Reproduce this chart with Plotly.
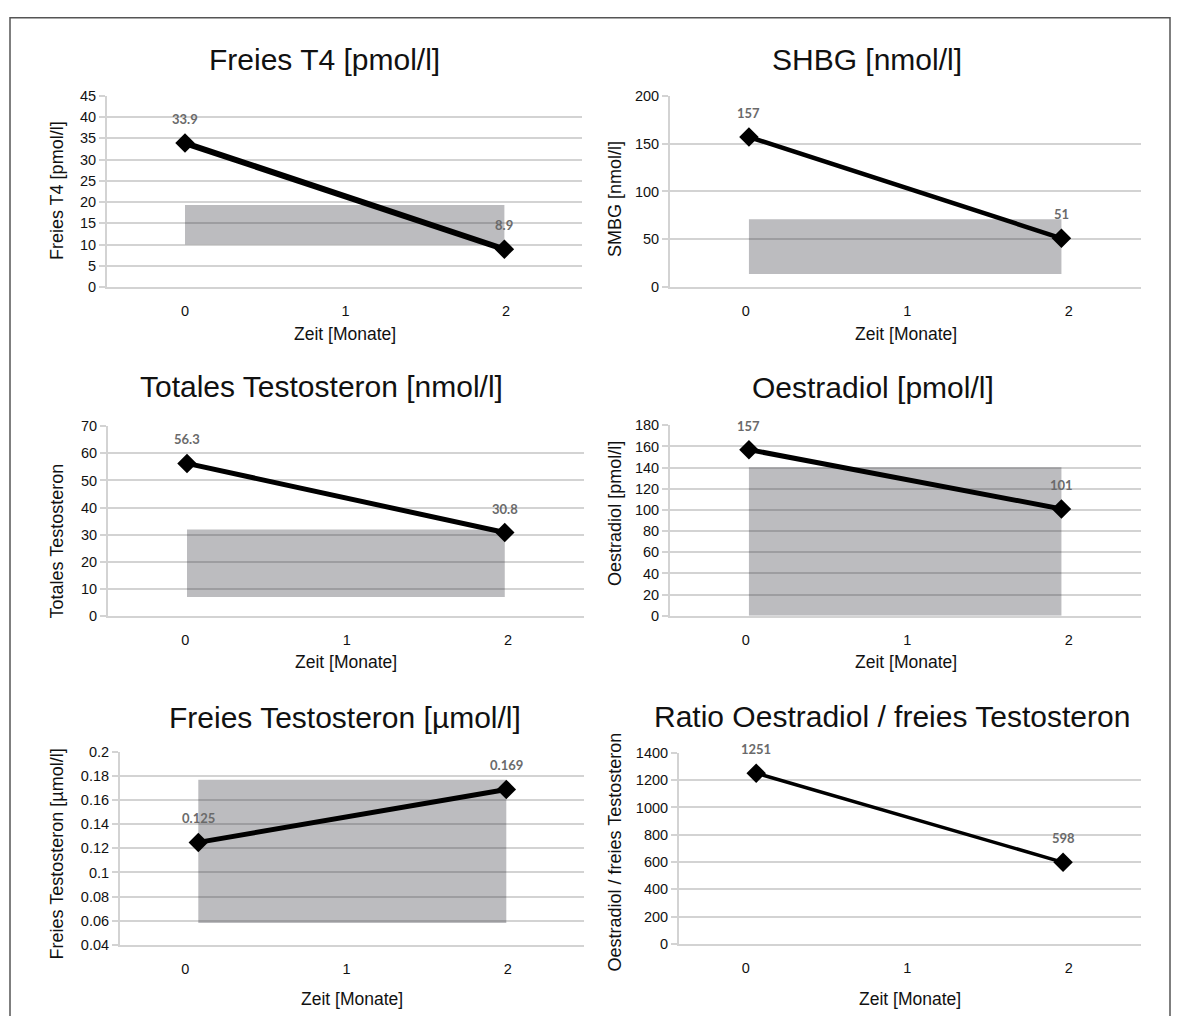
import plotly.graph_objects as go

W, H = 1178, 1016

# ---------------- data ----------------
x_ticks = [0, 1, 2]
x_title = "Zeit [Monate]"

titles = [
    "Freies T4 [pmol/l]",
    "SHBG [nmol/l]",
    "Totales Testosteron [nmol/l]",
    "Oestradiol [pmol/l]",
    "Freies Testosteron [µmol/l]",
    "Ratio Oestradiol / freies Testosteron",
]
y_titles = [
    "Freies T4 [pmol/l]",
    "SMBG [nmol/l]",
    "Totales Testosteron",
    "Oestradiol [pmol/l]",
    "Freies Testosteron [µmol/l]",
    "Oestradiol / freies Testosteron",
]

ft4_x = [0.0, 1.99]
ft4_y = [33.9, 8.9]
ft4_labels = ["33.9", "8.9"]
ft4_ref = [10.0, 19.3]

shbg_x = [0.02, 1.955]
shbg_y = [157, 51]
shbg_labels = ["157", "51"]
shbg_ref = [13.7, 71.0]

tt_x = [0.01, 1.98]
tt_y = [56.3, 30.8]
tt_labels = ["56.3", "30.8"]
tt_ref = [7.0, 31.9]

e2_x = [0.02, 1.955]
e2_y = [157, 101]
e2_labels = ["157", "101"]
e2_ref = [0.0, 140.4]

ft_x = [0.08, 1.99]
ft_y = [0.125, 0.169]
ft_labels = ["0.125", "0.169"]
ft_ref = [0.058, 0.177]

ratio_x = [0.065, 1.965]
ratio_y = [1251, 598]
ratio_labels = ["1251", "598"]
ratio_ref = None

ft4_yticks = [0, 5, 10, 15, 20, 25, 30, 35, 40, 45]
shbg_yticks = [0, 50, 100, 150, 200]
tt_yticks = [0, 10, 20, 30, 40, 50, 60, 70]
e2_yticks = [0, 20, 40, 60, 80, 100, 120, 140, 160, 180]
ft_yticks = [0.04, 0.06, 0.08, 0.1, 0.12, 0.14, 0.16, 0.18, 0.2]
ft_yticklabels = ["0.04", "0.06", "0.08", "0.1", "0.12", "0.14", "0.16", "0.18", "0.2"]
ratio_yticks = [0, 200, 400, 600, 800, 1000, 1200, 1400]

series = [
    (ft4_x, ft4_y, ft4_labels, ft4_ref, ft4_yticks, None),
    (shbg_x, shbg_y, shbg_labels, shbg_ref, shbg_yticks, None),
    (tt_x, tt_y, tt_labels, tt_ref, tt_yticks, None),
    (e2_x, e2_y, e2_labels, e2_ref, e2_yticks, None),
    (ft_x, ft_y, ft_labels, ft_ref, ft_yticks, ft_yticklabels),
    (ratio_x, ratio_y, ratio_labels, ratio_ref, ratio_yticks, None),
]

# ---------------- layout geometry (pixels) ----------------
# plot box: left, right, top, bottom ; x pixel of tick 0 and tick 2
boxes = [
    (107, 582, 89.3, 283.5, 185.0, 506.0),
    (670, 1141, 89.3, 283.5, 745.7, 1068.7),
    (108, 584, 425.0, 617.7, 185.4, 508.0),
    (670, 1141, 424.0, 617.5, 745.7, 1068.7),
    (120, 584, 756.0, 951.7, 185.4, 507.9),
    (679, 1141, 756.7, 951.0, 745.7, 1068.7),
]
title_pos = [(324, 52), (867, 52), (321, 385), (873, 386), (345, 721), (892, 720)]
ytitle_pos = [(57, 186), (615, 194), (57, 542), (615, 514), (57, 860), (615, 858)]
xtitle_y = [331, 331, 664, 664, 1007, 1007]
line_w = [6, 4.5, 5, 5, 5, 3.5]

GRID = "#d3d3d3"
FONT = "Liberation Sans, Arial, sans-serif"

fig = go.Figure()
layout = dict(
    width=W, height=H,
    margin=dict(l=0, r=0, t=0, b=0),
    paper_bgcolor="white", plot_bgcolor="white",
    showlegend=False,
    font=dict(family=FONT, color="#111111"),
    annotations=[], shapes=[],
)

def px(x):
    return x / W

def py(y):
    return 1 - y / H

for i, (xs, ys, labs, ref, yt, ytl) in enumerate(series):
    n = i + 1
    xa = "x" if n == 1 else f"x{n}"
    ya = "y" if n == 1 else f"y{n}"
    L, R, T, B, t0, t2 = boxes[i]
    unit = (t2 - t0) / 2.0
    xr = [(L - t0) / unit, (R - t0) / unit]
    yr = [yt[0], yt[-1]]

    if ref is not None:
        fig.add_trace(go.Scatter(
            x=[xs[0], xs[1], xs[1], xs[0], xs[0]],
            y=[ref[0], ref[0], ref[1], ref[1], ref[0]],
            mode="lines", fill="toself",
            fillcolor="rgba(40,40,48,0.31)", line=dict(width=0),
            hoverinfo="skip", xaxis=xa, yaxis=ya,
        ))
    fig.add_trace(go.Scatter(
        x=xs, y=ys, mode="lines+markers",
        line=dict(color="black", width=line_w[i]),
        marker=dict(symbol="diamond", size=15, color="black"),
        xaxis=xa, yaxis=ya,
    ))
    for xv, yv, lab in zip(xs, ys, labs):
        layout["annotations"].append(dict(
            x=xv, y=yv, xref=xa, yref=ya, text=f"<b>{lab}</b>",
            showarrow=False, yshift=24,
            font=dict(family="Lato, Open Sans, sans-serif", size=13, color="#6a6a6a"),
        ))

    layout["xaxis" if n == 1 else f"xaxis{n}"] = dict(
        domain=[px(L), px(R)], range=xr, anchor=ya,
        tickmode="array", tickvals=x_ticks, ticktext=[str(v) for v in x_ticks],
        showgrid=False, zeroline=False,
        showline=True, linecolor=GRID, linewidth=2,
        ticks="outside", ticklen=10, tickcolor="rgba(0,0,0,0)",
        tickfont=dict(size=14.5, family=FONT, color="#111111"),
        fixedrange=True,
    )
    layout["yaxis" if n == 1 else f"yaxis{n}"] = dict(
        domain=[py(B), py(T)], range=yr, anchor=xa,
        tickmode="array", tickvals=yt,
        ticktext=ytl if ytl is not None else [str(v) for v in yt],
        showgrid=True, gridcolor=GRID, gridwidth=2,
        zeroline=False,
        showline=True, linecolor=GRID, linewidth=2,
        ticks="outside", ticklen=6, tickcolor=GRID, tickwidth=2,
        tickfont=dict(size=14.5, family=FONT, color="#111111"),
        fixedrange=True,
    )

    tx, ty = title_pos[i]
    layout["annotations"].append(dict(
        x=px(tx), y=py(ty), xref="paper", yref="paper", text=titles[i],
        showarrow=False, xanchor="center", yanchor="middle",
        font=dict(size=30, family=FONT, color="#111111"),
    ))
    yx, yy = ytitle_pos[i]
    layout["annotations"].append(dict(
        x=px(yx), y=py(yy), xref="paper", yref="paper", text=y_titles[i],
        showarrow=False, textangle=-90, xanchor="center", yanchor="middle",
        font=dict(size=18, family=FONT, color="#111111"),
    ))
    layout["annotations"].append(dict(
        x=px((L + R) / 2), y=py(xtitle_y[i]), xref="paper", yref="paper",
        text=x_title, showarrow=False, xanchor="center", yanchor="middle",
        font=dict(size=17.5, family=FONT, color="#111111"),
    ))

# outer frame
layout["shapes"].append(dict(
    type="rect", xref="paper", yref="paper",
    x0=px(10), x1=px(1170), y0=-0.05, y1=py(10),
    line=dict(color="#555555", width=1.5), fillcolor="rgba(0,0,0,0)",
))

fig.update_layout(**layout)
fig.write_html(
    "out.html",
    config={"displayModeBar": False},
    post_script=(
        "document.documentElement.style.overflow='hidden';"
        "document.body.style.margin='0';"
        "document.body.style.overflow='hidden';"
        "var gd=document.getElementById('{plot_id}');"
        "gd.style.position='fixed';gd.style.left='0px';gd.style.top='0px';"
    ),
)
